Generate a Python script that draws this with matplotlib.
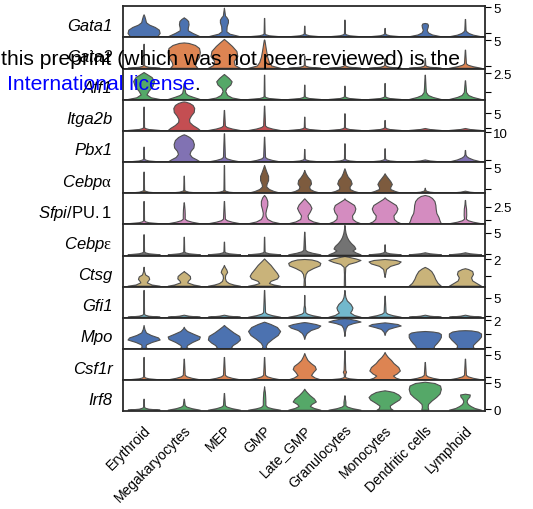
import matplotlib
matplotlib.use('agg')
import matplotlib.pyplot as plt
from matplotlib import rc
from matplotlib.text import Annotation

rc('font', family='Liberation Sans')
rc('mathtext', fontset='custom', rm='Liberation Sans',
   it='Liberation Sans:italic', sf='Liberation Serif')

cell_types = ['Erythroid', 'Megakaryocytes', 'MEP', 'GMP', 'Late_GMP',
              'Granulocytes', 'Monocytes', 'Dendritic cells', 'Lymphoid']

gene_labels = ['Gata1', 'Gata2', 'Aff1', 'Itga2b', 'Pbx1',
               r'$\mathit{Cebp}\mathsf{\alpha}$',
               r'$\mathit{Sfpi}\mathrm{/PU.1}$',
               r'$\mathit{Cebp}\mathsf{\varepsilon}$',
               'Ctsg', 'Gfi1', 'Mpo', 'Csf1r', 'Irf8']

row_colors = ['#4c72b0', '#dd8452', '#55a868', '#c44e52', '#8172b3',
              '#7d5b3e', '#d48cc0', '#737373', '#c9b37a', '#72b8cc',
              '#4c72b0', '#dd8452', '#55a868']

# y range and ticks of every row (right axis)
ylims = [(-0.81, 5.23), (-0.57, 5.55), (-1.08, 3.09), (-1.11, 9.69),
         (-0.57, 10.5), (-1.0, 6.4), (-0.85, 5.15), (-0.36, 7.05),
         (0.35, 2.24), (-0.66, 8.23), (-0.11, 2.16), (-0.7, 6.36),
         (-0.43, 5.45)]
yticks = [[0, 5], [0, 5], [0, 2.5], [0, 5], [0, 10], [0, 5], [0, 2.5],
          [0, 5], [1, 2], [0, 5], [0, 1, 2], [0, 5], [0, 5]]

# violin outlines: (expression value, relative half width)
# flat feet of the mostly-zero violins (f) and slightly fuller feet (m), per row
f1 = [(-0.58, 1), (-0.39, .3), (-0.19, .08), (0.0, .03)]
f2 = [(-0.41, 1), (-0.21, .3), (-0.02, .08), (0.18, .03)]
m2 = [(-0.41, 1), (-0.11, .5), (0.18, .18), (0.48, .06)]
f3 = [(-0.98, 1), (-0.85, .3), (-0.71, .08), (-0.58, .03)]
f4 = [(-0.8, 1), (-0.45, .3), (-0.11, .08), (0.24, .03)]
m4 = [(-0.8, 1), (-0.28, .5), (0.24, .18), (0.76, .06)]
f5 = [(-0.35, 1), (0.0, .3), (0.36, .08), (0.71, .03)]
m5 = [(-0.35, 1), (0.18, .5), (0.71, .18), (1.25, .06)]
f6 = [(-0.88, 1), (-0.64, .3), (-0.4, .08), (-0.17, .03)]
f7 = [(-0.63, 1), (-0.44, .3), (-0.25, .08), (-0.05, .03)]
m7 = [(-0.63, 1), (-0.34, .5), (-0.05, .18), (0.24, .06)]
f8 = [(-0.07, 1), (0.17, .3), (0.41, .08), (0.64, .03)]
m8 = [(-0.07, 1), (0.29, .5), (0.64, .18), (1.0, .06)]
f10 = [(-0.34, 1), (-0.05, .3), (0.23, .08), (0.52, .03)]
m10 = [(-0.34, 1), (0.09, .5), (0.52, .18), (0.95, .06)]
f12 = [(-0.52, 1), (-0.29, .3), (-0.07, .08), (0.16, .03)]
m12 = [(-0.52, 1), (-0.18, .5), (0.16, .18), (0.5, .06)]
f13 = [(-0.13, 1), (0.06, .3), (0.25, .08), (0.44, .03)]
m13 = [(-0.13, 1), (0.15, .5), (0.44, .18), (0.72, .06)]

gata1 = [
    [(-0.58, .85), (0.06, 1.0), (0.7, .95), (1.22, .7), (1.67, .35), (2.13, .15), (2.77, .1), (3.41, .04), (3.68, 0)],
    [(-0.58, 1.0), (0.06, .55), (0.58, .25), (1.09, .25), (1.74, .3), (2.38, .27), (2.77, .15), (3.02, .03), (3.1, 0)],
    [(-0.58, 1.0), (-0.08, .35), (0.39, .15), (1.36, .17), (2.13, .25), (2.64, .25), (3.16, .15), (3.41, .07), (4.32, .03), (4.96, 0)],
    f1 + [(2.97, .01)],
    f1 + [(1.47, .01)],
    f1 + [(2.64, .01)],
    f1 + [(1.03, .01)],
    [(-0.58, 1), (-0.23, .45), (0.16, .2), (0.64, .12), (1.22, .18), (1.61, .2), (1.9, .15), (2.0, 0)],
    [(-0.58, 1), (-0.27, .5), (0.06, .22), (0.35, .1), (0.6, .04), (2.77, .01)],
]
gata2 = [
    f2 + [(4.3, .01)],
    [(-0.41, .85), (0.14, .7), (0.73, .75), (1.71, .95), (2.7, 1.0), (3.48, .95), (4.07, .7), (4.47, .3), (4.57, 0)],
    [(-0.41, .9), (0.14, .6), (0.93, .55), (1.91, .75), (2.89, .7), (3.88, .45), (4.67, .2), (5.26, 0)],
    [(-0.41, 1.0), (0.04, .45), (0.73, .3), (1.71, .2), (2.89, .13), (4.07, .07), (5.06, .02), (5.16, 0)],
    f2 + [(2.0, .01)],
    f2 + [(1.5, .01)],
    f2 + [(1.5, .01)],
    f2 + [(1.5, .01)],
    m2 + [(3.15, .01)],
]
aff1 = [
    [(-0.98, 1.0), (-0.75, .45), (-0.37, .18), (0.09, .3), (0.76, .55), (1.43, .65), (1.96, .5), (2.36, .2), (2.63, 0)],
    [(-0.98, 1.0), (-0.71, .6), (-0.44, .25), (-0.17, .1), (0.36, .05), (1.03, .02), (1.16, 0)],
    [(-0.98, 1.0), (-0.78, .5), (-0.44, .2), (0.09, .08), (0.49, .15), (0.96, .4), (1.39, .48), (1.83, .3), (2.23, .08), (2.37, 0)],
    f3 + [(2.27, .01)],
    f3 + [(0.94, .01)],
    f3 + [(0.8, .01)],
    f3 + [(1.16, .01)],
    [(-0.98, 1), (-0.71, .5), (-0.44, .2), (-0.04, .07), (0.5, .05), (2.27, .01)],
    [(-0.98, 1), (-0.71, .5), (-0.44, .2), (-0.04, .07), (1.52, .01)],
]
itga2b = [
    f4 + [(7.3, .01)],
    [(-0.8, 1.0), (-0.1, .85), (0.94, .55), (1.98, .35), (3.02, .33), (4.24, .45), (5.45, .62), (6.84, .65), (7.88, .55), (8.58, .35), (9.03, .1), (9.1, 0)],
    m4 + [(6.15, .01)],
    m4 + [(7.64, .01)],
    f4 + [(3.82, .01)],
    f4 + [(5.0, .01)],
    f4 + [(2.67, .01)],
    [(-0.8, 1), (-0.45, .3), (-0.11, 0)],
    [(-0.8, 1), (-0.45, .3), (-0.11, 0)],
]
pbx1 = [
    f5 + [(4.9, .01)],
    [(-0.35, 1.0), (0.35, .8), (1.24, .5), (2.3, .36), (3.37, .42), (4.61, .6), (5.85, .63), (7.27, .55), (8.33, .35), (9.04, .12), (9.29, 0)],
    m5 + [(9.65, .01)],
    m5 + [(8.44, .01)],
    f5 + [(4.08, .01)],
    f5 + [(6.1, .01)],
    f5 + [(4.33, .01)],
    [(-0.35, 1), (0.0, .3), (0.36, 0)],
    [(-0.35, 1), (0.36, .5), (1.07, .2), (1.6, .08), (2.2, .03), (3.72, .01)],
]
cebpa = [
    f6 + [(4.12, .01)],
    f6 + [(3.17, .01)],
    f6 + [(5.7, .01)],
    [(-0.88, 1.0), (-0.48, .6), (0, .3), (0.6, .13), (1.19, .15), (2.14, .25), (3.1, .25), (4.05, .15), (5.0, .06), (5.71, 0)],
    [(-0.88, 1.0), (-0.48, .6), (0, .35), (0.6, .3), (1.31, .42), (2.14, .38), (2.86, .22), (3.57, .1), (4.17, .03), (4.52, 0)],
    [(-0.88, 1.0), (-0.48, .6), (0, .33), (0.6, .32), (1.31, .45), (2.14, .38), (2.98, .2), (3.81, .1), (4.52, .04), (4.93, 0)],
    [(-0.88, 1.0), (-0.48, .65), (0, .35), (0.48, .35), (1.19, .45), (1.9, .35), (2.62, .2), (3.33, .06), (3.74, 0)],
    f6 + [(0.31, 0)],
    [(-0.88, 1), (-0.64, .3), (-0.4, 0)],
]
sfpi = [
    f7 + [(3.65, .01)],
    m7 + [(1.2, .06), (2.0, .05), (3.4, .01)],
    m7 + [(3.65, .01)],
    [(-0.63, 1.0), (-0.29, .5), (0.19, .2), (0.77, .1), (1.35, .08), (2.12, .13), (2.88, .2), (3.65, .2), (4.33, .12), (4.71, .03), (4.81, 0)],
    [(-0.63, 1.0), (-0.29, .55), (0.19, .25), (0.87, .2), (1.63, .35), (2.31, .45), (2.98, .35), (3.56, .18), (4.04, .04), (4.17, 0)],
    [(-0.63, 1.0), (-0.29, .7), (0.19, .5), (0.87, .47), (1.54, .62), (2.21, .68), (2.88, .6), (3.46, .3), (3.94, .05), (4.17, 0)],
    [(-0.63, 1.0), (-0.29, .75), (0.19, .58), (0.87, .55), (1.54, .72), (2.21, .8), (2.88, .7), (3.46, .4), (4.04, .1), (4.37, 0)],
    [(-0.63, 1.0), (-0.1, .92), (0.58, .85), (1.35, .72), (2.12, .68), (2.88, .66), (3.65, .6), (4.23, .45), (4.62, .25), (4.81, 0)],
    m7 + [(1.0, .08), (2.2, .07), (3.0, .03), (3.85, .01)],
]
cebpe = [
    f8 + [(4.7, .01)],
    f8 + [(4.1, .01)],
    f8 + [(2.93, .01)],
    f8 + [(4.1, .01)],
    m8 + [(5.3, .01)],
    [(-0.07, 1.0), (0.36, .7), (0.83, .5), (1.31, .68), (1.9, .6), (2.62, .4), (3.33, .25), (4.05, .15), (5.0, .07), (5.95, .03), (6.9, 0)],
    f8 + [(2.3, .01)],
    [(-0.07, 1), (0.17, .3), (0.41, 0)],
    [(-0.07, 1), (0.17, .3), (0.41, 0)],
]
ctsg = [
    [(0.41, 1.0), (0.48, .5), (0.61, .2), (0.7, .25), (0.82, .35), (0.97, .3), (1.09, .1), (1.3, .03), (1.56, 0)],
    [(0.41, 1.0), (0.48, .6), (0.61, .22), (0.7, .25), (0.85, .4), (1.0, .38), (1.15, .2), (1.27, .03), (1.3, 0)],
    [(0.41, 1.0), (0.48, .6), (0.57, .3), (0.7, .12), (0.88, .06), (1.06, .08), (1.24, .2), (1.39, .15), (1.55, .05), (1.67, 0)],
    [(0.41, 1.0), (0.48, .6), (0.57, .3), (0.7, .4), (0.85, .8), (1.0, .9), (1.18, .8), (1.42, .6), (1.67, .4), (1.91, .15), (2.06, 0)],
    [(0.41, .05), (0.82, .03), (1.12, .08), (1.3, .2), (1.48, .55), (1.64, .95), (1.79, 1.0), (1.91, .8), (2.0, .45), (2.03, 0)],
    [(0.41, .04), (1.12, .03), (1.55, .05), (1.73, .25), (1.85, .7), (1.97, 1.0), (2.06, .7), (2.15, .3), (2.21, 0)],
    [(0.94, 0), (1.12, .03), (1.42, .08), (1.61, .3), (1.76, .75), (1.88, .88), (1.97, .6), (2.03, 0)],
    [(0.41, 1.0), (0.58, .8), (0.82, .65), (1.06, .55), (1.3, .4), (1.45, .2), (1.55, 0)],
    [(0.41, 1.0), (0.58, .7), (0.73, .45), (0.91, .38), (1.12, .5), (1.3, .45), (1.42, .2), (1.47, 0)],
]
gfi1 = [
    f10 + [(7.29, .01)],
    [(-0.34, 1), (-0.05, .3), (0.23, 0)],
    [(-0.34, 1), (-0.05, .3), (0.23, 0)],
    m10 + [(7.29, .01)],
    m10 + [(2.2, .05), (3.0, .02), (5.86, .01)],
    [(-0.34, 1.0), (0.14, .6), (0.86, .35), (1.57, .45), (2.29, .5), (3.29, .38), (4.29, .15), (5.29, .06), (6.43, .02), (7.29, 0)],
    m10 + [(5.66, .01)],
    [(-0.34, 1), (-0.05, .3), (0.23, 0)],
    [(-0.34, 1), (-0.05, .3), (0.23, 0)],
]
mpo = [
    [(-0.09, .25), (0.04, .12), (0.22, .15), (0.4, .5), (0.58, 1.0), (0.73, .9), (0.91, .45), (1.09, .15), (1.35, .05), (1.64, 0)],
    [(-0.09, .3), (0.04, .15), (0.18, .2), (0.4, .5), (0.62, .9), (0.8, .95), (0.98, .6), (1.2, .2), (1.38, .05), (1.51, 0)],
    [(-0.09, .55), (0.04, .45), (0.18, .55), (0.36, .8), (0.58, 1.0), (0.84, .95), (1.09, .6), (1.35, .3), (1.53, .1), (1.64, 0)],
    [(-0.09, .15), (0.11, .1), (0.33, .2), (0.62, .5), (0.91, .85), (1.2, 1.0), (1.49, .8), (1.71, .4), (1.86, .05), (1.88, 0)],
    [(0.62, 0), (0.84, .05), (1.05, .15), (1.27, .4), (1.45, .85), (1.6, 1.0), (1.71, .7), (1.82, .2), (1.85, 0)],
    [(0.84, 0), (1.13, .03), (1.42, .08), (1.64, .2), (1.78, .55), (1.89, 1.0), (2.0, .7), (2.09, .3), (2.13, 0)],
    [(0.91, 0), (1.13, .05), (1.35, .2), (1.49, .55), (1.6, .88), (1.71, .7), (1.8, .2), (1.83, 0)],
    [(-0.09, .55), (0, .55), (0.15, .6), (0.33, .75), (0.55, .9), (0.76, 1.0), (0.98, 1.0), (1.09, .85), (1.16, .5), (1.2, 0)],
    [(-0.09, .6), (0.04, .5), (0.18, .5), (0.36, .65), (0.58, .85), (0.8, 1.0), (1.02, 1.0), (1.16, .8), (1.24, .4), (1.26, 0)],
]
csf1r = [
    f12 + [(4.55, .01)],
    m12 + [(4.16, .01)],
    m12 + [(4.55, .01)],
    m12 + [(2.0, .04), (4.55, .01)],
    [(-0.52, 1.0), (-0.11, .65), (0.45, .42), (1.14, .55), (1.82, .72), (2.5, .65), (3.18, .4), (3.86, .2), (4.77, .07), (5.45, 0)],
    f12 + [(0.8, .05), (1.2, .1), (1.6, .05), (6.07, .01)],
    [(-0.52, 1.0), (-0.16, .7), (0.34, .52), (0.8, .75), (1.48, .95), (2.27, .85), (3.18, .55), (3.86, .4), (4.55, .2), (5.23, .06), (5.68, 0)],
    m12 + [(3.41, .01)],
    m12 + [(4.16, .01)],
]
irf8 = [
    f13 + [(1.94, .01)],
    m13 + [(1.94, .01)],
    m13 + [(3.02, .01)],
    [(-0.13, 1.0), (0.13, .5), (0.38, .2), (0.75, .08), (1.51, .08), (2.26, .07), (3.21, .05), (3.77, .02), (4.28, 0)],
    [(-0.13, 1.0), (0.19, .6), (0.57, .35), (0.94, .45), (1.42, .72), (1.98, .6), (2.64, .33), (3.21, .15), (3.58, .05), (3.83, 0)],
    m13 + [(1.4, .06), (2.0, .03), (2.58, .01)],
    [(-0.13, .5), (0.19, .35), (0.66, .32), (1.23, .6), (1.79, .9), (2.26, 1.0), (2.74, .85), (3.21, .55), (3.4, .25), (3.53, 0)],
    [(-0.13, .22), (0.38, .18), (0.94, .2), (1.6, .42), (2.26, .7), (2.92, .92), (3.77, 1.0), (4.43, .95), (4.91, .6), (5.15, 0)],
    [(-0.13, 1.0), (0.19, .6), (0.57, .35), (0.94, .18), (1.42, .1), (1.89, .15), (2.36, .28), (2.74, .3), (2.89, 0)],
]

rows = [gata1, gata2, aff1, itga2b, pbx1, cebpa, sfpi, cebpe,
        ctsg, gfi1, mpo, csf1r, irf8]


def draw_violin(ax, pos, knots, color):
    vals = [k[0] for k in knots]
    wmax = max(k[1] for k in knots)
    half = [0.4 * k[1] / wmax for k in knots]
    ax.fill_betweenx(vals, [pos - h for h in half], [pos + h for h in half],
                     facecolor=color, edgecolor='#4f4f4f', linewidth=0.8)


def main():
    fig = plt.figure(figsize=(5.33, 5.10), dpi=100)
    axes = fig.subplots(len(rows), 1, sharex=True,
                        gridspec_kw=dict(hspace=0, left=0.2317, right=0.91,
                                         top=0.9857, bottom=0.1916))
    for i, ax in enumerate(axes):
        for j, knots in enumerate(rows[i]):
            draw_violin(ax, j, knots, row_colors[i])
        ax.set_xlim(-0.5, len(cell_types) - 0.5)
        ax.set_ylim(*ylims[i])
        ax.yaxis.tick_right()
        ax.set_yticks(yticks[i])
        last = i == len(rows) - 1
        labels = []
        for k, t in enumerate(yticks[i]):
            if k == len(yticks[i]) - 1 or (last and k == 0):
                labels.append('%g' % t)
            else:
                labels.append('')
        ax.set_yticklabels(labels)
        ax.tick_params(axis='y', length=4, width=0.8, labelsize=9.5, pad=2)
        ax.tick_params(axis='x', length=0)
        style = 'normal' if gene_labels[i].startswith('$') else 'italic'
        # gene name, left of the row
        ax.annotate(gene_labels[i], xy=(0, 0.5), xycoords='axes fraction',
                    xytext=(-11, -8), textcoords='offset pixels',
                    ha='right', va='baseline', fontsize=12, fontstyle=style)
        for sp in ax.spines.values():
            sp.set_linewidth(1.3)
            sp.set_color('#2a2a2a')
    axes[-1].set_xticks(range(len(cell_types)))
    axes[-1].set_xticklabels(cell_types, rotation=45, ha='right',
                             rotation_mode='anchor', fontsize=10)
    axes[-1].tick_params(axis='x', pad=8)

    fig.text(1 / 533, 1 - 65 / 510,
             'this preprint (which was not peer-reviewed) is the',
             fontsize=15.2, va='baseline', color='black')
    t2 = fig.text(6.7 / 533, 1 - 90.5 / 510, 'International license',
                  fontsize=15.2, va='baseline', color='#0000ff')
    dot = Annotation('.', xy=(1, 0), xycoords=t2, va='bottom', ha='left',
                     fontsize=15.2, color='black')
    fig.add_artist(dot)
    fig.savefig('out.png', dpi=100)


if __name__ == '__main__':
    main()
